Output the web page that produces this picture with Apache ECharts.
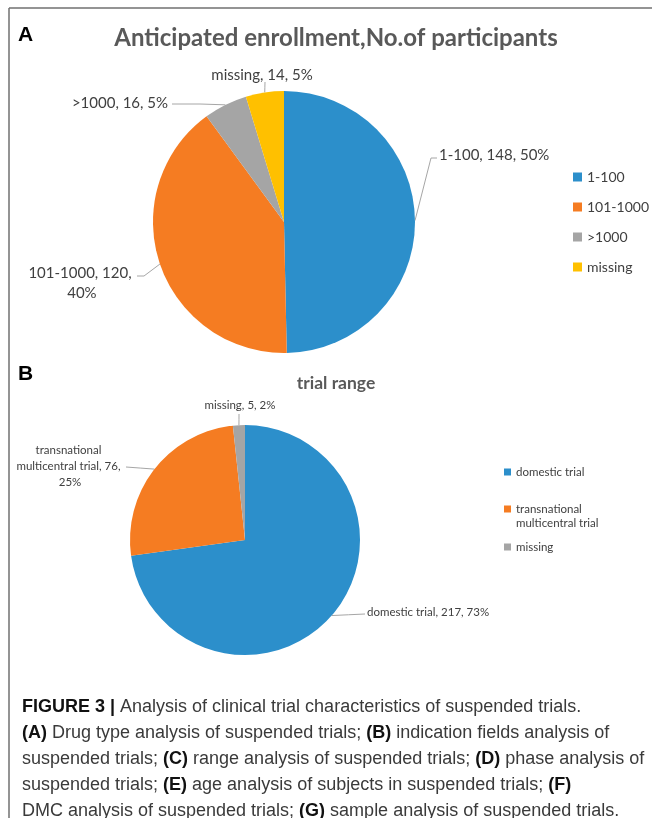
<!DOCTYPE html>
<html>
<head>
<meta charset="utf-8">
<script src="https://cdn.jsdelivr.net/npm/echarts@6/dist/echarts.min.js"></script>
<style>
html,body{margin:0;padding:0;background:#fff;}
#chart{width:652px;height:818px;}
</style>
</head>
<body>
<div id="chart"></div>
<script>
// ---- Data ----
const enrollCategories = ['1-100', '101-1000', '>1000', 'missing'];
const enrollValues = [148, 120, 16, 14];
const rangeCategories = ['domestic trial', 'transnational multicentral trial', 'missing'];
const rangeValues = [217, 76, 5];

const titleA = 'Anticipated enrollment,No.of participants';
const titleB = 'trial range';

const colorsA = ['#2C8FCB', '#F57C22', '#A5A5A5', '#FFC000'];
const colorsB = ['#2C8FCB', '#F57C22', '#A5A5A5'];

const chart = echarts.init(document.getElementById('chart'), null, {renderer: 'canvas'});

const FONT = 'Lato, "Noto Sans", sans-serif';
const CAP = '"Liberation Sans", Arial, sans-serif';

const dataA = enrollCategories.map((n, i) => ({name: n, value: enrollValues[i], itemStyle: {color: colorsA[i]}}));
const dataB = rangeCategories.map((n, i) => ({name: n, value: rangeValues[i], itemStyle: {color: colorsB[i]}}));

// label placement (layout only)
const layoutA = [
  {x: 439, y: 155, align: 'left', elbow: [431, 158], end: [437, 158]},
  {x: 80, y: 283, align: 'center', elbow: [144, 276], end: [137, 276]},
  {x: 168, y: 103, align: 'right', elbow: [200, 104], end: [172, 104]},
  {x: 262, y: 75, align: 'center', elbow: null, end: [265, 82]}
];
const layoutB = [
  {x: 367, y: 612, align: 'left', elbow: null, end: [365, 614]},
  {x: 70, y: 466, align: 'center', elbow: null, end: [126, 467]},
  {x: 240, y: 405, align: 'center', elbow: null, end: [239, 414]}
];

function makeLayout(table) {
  return function (params) {
    const L = table[params.dataIndex];
    const out = {x: L.x, y: L.y, align: L.align, verticalAlign: 'middle'};
    if (params.labelLinePoints && params.labelLinePoints.length) {
      const p0 = params.labelLinePoints[0];
      const pts = [[p0[0], p0[1]]];
      if (L.elbow) pts.push(L.elbow);
      else pts.push([(p0[0] + L.end[0]) / 2, (p0[1] + L.end[1]) / 2]);
      pts.push(L.end);
      out.labelLinePoints = pts;
    }
    return out;
  };
}

const wrapA = [null, 105, null, null];
dataA.forEach((d, i) => { if (wrapA[i]) d.label = {width: wrapA[i], overflow: 'break'}; });
const wrapB = [null, 120, null];
dataB.forEach((d, i) => { if (wrapB[i]) d.label = {width: wrapB[i], overflow: 'break'}; });

function captionLine(str, y) {
  return {
    type: 'text', left: 22, top: y,
    style: {
      text: str,
      font: '18px ' + CAP,
      fill: '#3a3a3a',
      rich: {
        b: {fontFamily: CAP, fontSize: 18, fontWeight: 'bold', fill: '#111'}
      }
    }
  };
}

const legendBText = {fontFamily: FONT, fontSize: 11.5, color: '#404040', lineHeight: 14};

const option = {
  backgroundColor: '#fff',
  animation: false,
  title: [
    {text: titleA, left: 331, top: 21, textAlign: 'center', textStyle: {fontFamily: FONT, fontSize: 24, fontWeight: 'bold', color: '#595959'}},
    {text: titleB, left: 331, top: 369, textAlign: 'center', textStyle: {fontFamily: FONT, fontSize: 17.5, fontWeight: 'bold', color: '#595959'}}
  ],
  legend: [
    {
      orient: 'vertical', left: 573, top: 169, padding: 0, itemWidth: 9, itemHeight: 9, itemGap: 14,
      data: enrollCategories.map((n, i) => ({name: n, itemStyle: {color: colorsA[i]}})), icon: 'rect',
      textStyle: {fontFamily: FONT, fontSize: 14, color: '#404040', lineHeight: 16},
      selectedMode: false
    },
    {
      orient: 'vertical', left: 504, top: 465, padding: 0, itemWidth: 7, itemHeight: 7,
      data: [{name: rangeCategories[0], itemStyle: {color: colorsB[0]}}], icon: 'rect',
      textStyle: legendBText,
      selectedMode: false
    },
    {
      orient: 'vertical', left: 504, top: 488, padding: 0, itemWidth: 7, itemHeight: 7,
      data: [{name: rangeCategories[1], itemStyle: {color: colorsB[1]}}], icon: 'rect',
      formatter: function () { return ' \ntransnational\nmulticentral trial'; },
      textStyle: legendBText,
      selectedMode: false
    },
    {
      orient: 'vertical', left: 504, top: 540, padding: 0, itemWidth: 7, itemHeight: 7,
      data: [{name: rangeCategories[2], itemStyle: {color: colorsB[2]}}], icon: 'rect',
      textStyle: legendBText,
      selectedMode: false
    }
  ],
  series: [
    {
      type: 'pie', name: 'A', center: [284, 222], radius: 131, startAngle: 90, clockwise: true,
      data: dataA,
      percentPrecision: 0,
      label: {show: true, formatter: '{b}, {c}, {d}%', fontFamily: FONT, fontSize: 15, color: '#404040', lineHeight: 20},
      labelLine: {show: true, lineStyle: {color: '#A6A6A6', width: 1}},
      labelLayout: makeLayout(layoutA),
      emphasis: {disabled: true}
    },
    {
      type: 'pie', name: 'B', center: [245, 540], radius: 115, startAngle: 90, clockwise: true,
      data: dataB,
      percentPrecision: 0,
      label: {show: true, formatter: '{b}, {c}, {d}%', fontFamily: FONT, fontSize: 11.5, color: '#404040', lineHeight: 16},
      labelLine: {show: true, lineStyle: {color: '#A6A6A6', width: 1}},
      labelLayout: makeLayout(layoutB),
      emphasis: {disabled: true}
    }
  ],
  graphic: [
    {type: 'line', shape: {x1: 9, y1: 8, x2: 652, y2: 8}, style: {stroke: '#707070', lineWidth: 1.5}},
    {type: 'line', shape: {x1: 9, y1: 8, x2: 9, y2: 818}, style: {stroke: '#707070', lineWidth: 1.5}},
    {type: 'text', left: 18, top: 25, style: {text: 'A', font: 'bold 21px "Liberation Sans", Arial, sans-serif', fill: '#000'}},
    {type: 'text', left: 18, top: 364, style: {text: 'B', font: 'bold 21px "Liberation Sans", Arial, sans-serif', fill: '#000'}},
    captionLine('{b|FIGURE 3 |} Analysis of clinical trial characteristics of suspended trials.', 698),
    captionLine('{b|(A)} Drug type analysis of suspended trials; {b|(B)} indication fields analysis of', 724),
    captionLine('suspended trials; {b|(C)} range analysis of suspended trials; {b|(D)} phase analysis of', 750),
    captionLine('suspended trials; {b|(E)} age analysis of subjects in suspended trials; {b|(F)}', 776),
    captionLine('DMC analysis of suspended trials; {b|(G)} sample analysis of suspended trials.', 802)
  ]
};
chart.setOption(option);
</script>
</body>
</html>
